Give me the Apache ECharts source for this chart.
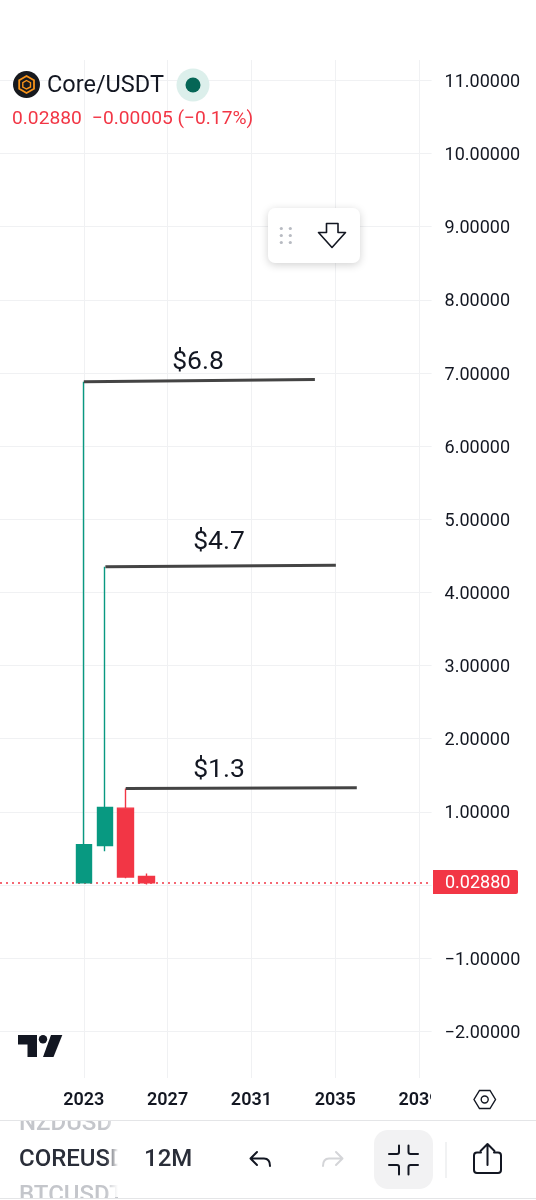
<!DOCTYPE html>
<html>
<head>
<meta charset="utf-8">
<style>html,body{margin:0;padding:0;background:#fff}#chart{width:536px;height:1200px}</style>
<script src="https://cdn.jsdelivr.net/npm/echarts@6/dist/echarts.min.js"></script>
</head>
<body>
<div id="chart"></div>
<script>
// Yearly candles: [year, open, close, low, high]
const years = [2023, 2024, 2025, 2026];
const opens = [0.03, 0.54, 1.05, 0.116];
const closes = [0.55, 1.06, 0.107, 0.0288];
const lows = [0.03, 0.46, 0.09, 0.007];
const highs = [6.88, 4.35, 1.32, 0.157];

// Axis ticks
const yearTicks = [2023, 2027, 2031, 2035, 2039];
const priceTicks = [-2, -1, 0, 1, 2, 3, 4, 5, 6, 7, 8, 9, 10, 11];
const hiddenPriceLabels = [0];

// Hand-drawn trend lines from each candle's high, with their captions
const trendLabels = ['$6.8', '$4.7', '$1.3'];
const trendStartYears = [2023, 2024.03, 2025];
const trendEndYears = [2034.03, 2035.03, 2036.03];
const trendStartValues = [6.88, 4.35, 1.32];
const trendEndValues = [6.91, 4.37, 1.33];

const lastPrice = 0.0288;
const lastPriceText = '0.02880';
const changeText = '\u22120.00005 (\u22120.17%)';
const symbolName = 'Core/USDT';

const UP = '#089981', DOWN = '#F23645', INK = '#131722', GRID = '#F0F1F3';
const FONT = 'Roboto, sans-serif';

const candles = years.map((y, i) => [y, opens[i], closes[i], lows[i], highs[i]]);
const minus = s => String(s).replace('-', '\u2212');

const trendSeries = trendLabels.map((t, i) => ({
  type: 'line',
  silent: true,
  symbol: 'none',
  z: 6,
  lineStyle: { color: '#444444', width: 3 },
  data: [[trendStartYears[i], trendStartValues[i]], [trendEndYears[i], trendEndValues[i]]]
}));

// Interface furniture around the plot
const text = (x, y, s, size, fill, extra) => ({
  type: 'text', z: 50,
  style: Object.assign({ x, y: y + 1.5, text: s, font: `${(extra && extra.weight) || 400} ${size}px ${FONT}`, fill, textVerticalAlign: 'middle' }, extra || {})
});
let iconCount = 0;
const stroke = (d, color, width) => {
  const name = 'icon' + (iconCount++);
  echarts.graphic.registerShape(name, echarts.graphic.extendPath(d, {}));
  return {
    type: name, z: 52,
    style: { fill: 'none', stroke: color, lineWidth: width, lineCap: 'round', lineJoin: 'round' }
  };
};
const rect = (x, y, w, h, fill, r, z) => ({
  type: 'rect', z: z || 49,
  shape: { x, y, width: w, height: h, r: r || 0 },
  style: { fill }
});

const furniture = [
  // trend line captions
  text(198, 360.5, trendLabels[0], 26.5, '#131722', { textAlign: 'center' }),
  text(219, 541, trendLabels[1], 26.5, '#131722', { textAlign: 'center' }),
  text(219, 769, trendLabels[2], 26.5, '#131722', { textAlign: 'center' }),

  // symbol header
  { type: 'circle', z: 50, shape: { cx: 26.5, cy: 84.5, r: 13.5 }, style: { fill: '#17191E' } },
  { type: 'polygon', z: 51, shape: { points: [[26.5, 76], [34, 80.3], [34, 88.8], [26.5, 93], [19.2, 88.8], [19.2, 80.3]] }, style: { fill: 'none', stroke: '#F7931A', lineWidth: 1.8 } },
  { type: 'polygon', z: 51, shape: { points: [[26.5, 80.5], [30.5, 82.6], [30.5, 87], [26.5, 89], [22.8, 87], [22.8, 82.6]] }, style: { fill: 'none', stroke: '#F7931A', lineWidth: 1.4 } },
  text(47, 85, symbolName, 23.5, INK),
  { type: 'circle', z: 50, shape: { cx: 193, cy: 85, r: 16.5 }, style: { fill: '#DCEFEB' } },
  { type: 'circle', z: 51, shape: { cx: 193, cy: 85, r: 7.5 }, style: { fill: '#056656' } },
  text(12, 118, lastPriceText, 19.2, DOWN),
  text(92, 118, changeText, 19.2, DOWN),

  // floating drawing toolbar
  {
    type: 'rect', z: 50, shape: { x: 268, y: 208, width: 92, height: 55, r: 7 },
    style: { fill: '#fff', shadowBlur: 8, shadowColor: 'rgba(0,0,0,0.18)', shadowOffsetY: 2 }
  },
  ...[[281, 229], [290, 229], [281, 236], [290, 236], [281, 243], [290, 243]].map(p => ({
    type: 'circle', z: 51, shape: { cx: p[0] + 0.3, cy: p[1] - 0.5, r: 1.6 }, style: { fill: '#B8BBC2' }
  })),
  stroke('M326.5 223.5H338V232.5H345.5L332 247.5L318.5 232.5H326.5Z', '#131722', 1.6),

  // last price tag
  { type: 'rect', z: 50, shape: { x: 433, y: 870, width: 85, height: 24, r: [0, 2, 2, 0] }, style: { fill: DOWN } },
  text(445, 881.5, lastPriceText, 18, '#fff'),

  // TradingView mark
  { type: 'polygon', z: 50, shape: { points: [[18, 1035], [37, 1035], [37, 1057], [27.5, 1057], [27.5, 1044.5], [18, 1044.5]] }, style: { fill: '#131722' } },
  { type: 'circle', z: 50, shape: { cx: 43, cy: 1039.2, r: 4.2 }, style: { fill: '#131722' } },
  { type: 'polygon', z: 50, shape: { points: [[51, 1035], [62.3, 1035], [53.5, 1057], [43, 1057]] }, style: { fill: '#131722' } },

  // hides the end of the last year label, where the price scale begins
  rect(431, 1085, 40, 28, '#fff'),
  // axis settings button
  { type: 'polygon', z: 52, shape: { points: [[479.5, 1090.5], [490, 1090.5], [495.5, 1099.5], [490, 1108.5], [479.5, 1108.5], [474, 1099.5]] }, style: { fill: 'none', stroke: '#131722', lineWidth: 1.4 } },
  { type: 'circle', z: 52, shape: { cx: 484.7, cy: 1099.5, r: 3.5 }, style: { fill: 'none', stroke: '#131722', lineWidth: 1.4 } },

  // bottom bar: the symbol wheel is cut off above and below the selected row
  text(19, 1122.5, 'NZDUSD', 24, '#C4C6CB', { weight: 500 }),
  text(19, 1158.5, 'COREUSDT', 24, '#2A2E39', { weight: 500 }),
  text(19, 1194, 'BTCUSDT', 24, '#C4C6CB', { weight: 500 }),
  {
    type: 'rect', z: 51, shape: { x: 106, y: 1121, width: 12, height: 76 },
    style: { fill: { type: 'linear', x: 0, y: 0, x2: 1, y2: 0, colorStops: [{ offset: 0, color: 'rgba(255,255,255,0)' }, { offset: 1, color: '#fff' }] } }
  },
  rect(118, 1121, 24, 76, '#fff', 0, 51),
  rect(0, 1108, 536, 12, '#fff', 0, 51),
  rect(0, 1120, 536, 1, '#E4E5E7', 0, 52),
  rect(0, 1198, 536, 2, '#fff', 0, 51),
  rect(0, 1198, 536, 1, '#E4E5E7', 0, 52),
  text(144, 1158.5, '12M', 24, '#2A2E39', { weight: 500 }),
  stroke('M257 1152L250.5 1158.5L257 1165M251 1158.5H264C268 1158.5 270 1161.5 270 1166', '#131722', 2),
  stroke('M336 1152L342.5 1158.5L336 1165M342 1158.5H329C325 1158.5 323 1161.5 323 1166', '#D4D5D8', 2),
  rect(374, 1130, 59, 59, '#F2F2F3', 14, 50),
  stroke('M399 1145.5V1152C399 1153.2 398.2 1154 397 1154H389', '#131722', 2),
  stroke('M408.5 1145.5V1152C408.5 1153.2 409.3 1154 410.5 1154H418', '#131722', 2),
  stroke('M399 1174.5V1167C399 1165.8 398.2 1165 397 1165H389', '#131722', 2),
  stroke('M408.5 1174.5V1167C408.5 1165.8 409.3 1165 410.5 1165H418', '#131722', 2),
  rect(445.5, 1142, 1, 36, '#E4E5E7', 0, 52),
  stroke('M487.5 1165V1144.5M480.5 1151L487.5 1144L494.5 1151', '#131722', 2),
  stroke('M481 1152.5H477C475.3 1152.5 474 1153.8 474 1155.5V1170C474 1171.7 475.3 1173 477 1173H498C499.7 1173 501 1171.7 501 1170V1155.5C501 1153.8 499.7 1152.5 498 1152.5H494', '#131722', 2)
];

const chart = echarts.init(document.getElementById('chart'), null, { renderer: 'canvas' });
chart.setOption({
  animation: false,
  backgroundColor: '#ffffff',
  grid: { left: -1, right: 104.4, top: 60, bottom: 122, containLabel: false },
  xAxis: {
    type: 'value',
    min: 2019,
    max: 2039.6,
    axisLine: { show: false },
    axisTick: { show: false, customValues: yearTicks },
    axisLabel: {
      customValues: yearTicks,
      formatter: v => String(v),
      margin: 13,
      fontFamily: FONT,
      fontSize: 18,
      fontWeight: 600,
      color: INK,
      hideOverlap: false
    },
    splitLine: { show: true, lineStyle: { color: GRID, width: 1 } }
  },
  yAxis: {
    type: 'value',
    position: 'right',
    min: -2.64,
    max: 11.28,
    axisLine: { show: false },
    axisTick: { show: false, customValues: priceTicks },
    axisLabel: {
      customValues: priceTicks.filter(v => !hiddenPriceLabels.includes(v)),
      formatter: v => minus(v.toFixed(5)),
      align: 'left',
      verticalAlign: 'top',
      padding: [-7, 0, 0, 0],
      margin: 13,
      fontFamily: FONT,
      fontSize: 18,
      color: INK
    },
    splitLine: { show: true, lineStyle: { color: GRID, width: 1 } }
  },
  series: [
    {
      type: 'candlestick',
      silent: true,
      barWidth: 16,
      z: 5,
      itemStyle: { color: UP, borderColor: UP, color0: DOWN, borderColor0: DOWN, borderWidth: 1.4 },
      data: candles,
      markLine: {
        silent: true,
        symbol: 'none',
        animation: false,
        label: { show: false },
        lineStyle: { color: DOWN, type: [2, 4], width: 1.5 },
        data: [{ yAxis: lastPrice }]
      }
    },
    ...trendSeries
  ],
  graphic: { elements: furniture }
});
</script>
</body>
</html>
